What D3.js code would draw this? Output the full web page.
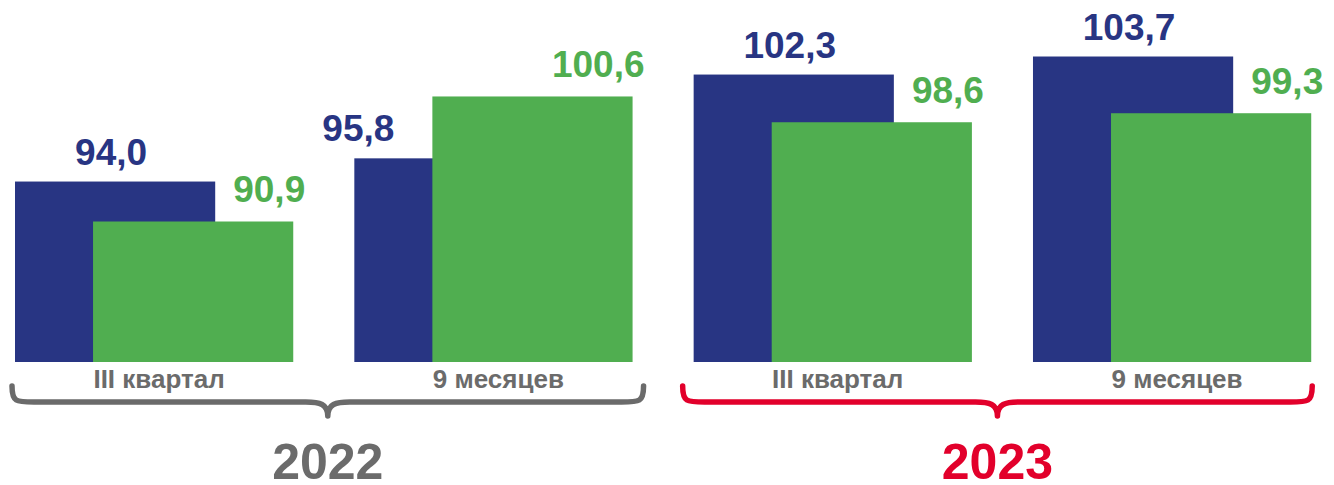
<!DOCTYPE html>
<html><head><meta charset="utf-8">
<script src="https://cdn.jsdelivr.net/npm/d3@7"></script>
<style>
html,body{margin:0;padding:0;background:#fff;}
svg{display:block;font-family:"Liberation Sans",Arial,sans-serif;font-weight:bold;}
</style></head>
<body>
<svg id="c" width="1334" height="485"></svg>
<script>
const years = ["2022", "2023"];
const periods = ["III квартал", "9 месяцев"];
const categories = ["2022|III квартал", "2022|9 месяцев", "2023|III квартал", "2023|9 месяцев"];
const blueValues = [94.0, 95.8, 102.3, 103.7];
const greenValues = [90.9, 100.6, 98.6, 99.3];
const yearColors = ["#6b6b6b", "#e2002b"];

const BLUE = "#283583", GREEN = "#50ae50", GRAY = "#6b6b6b";
const svg = d3.select("#c");
const fmt = v => d3.format(".1f")(v).replace(".", ",");

const x = d3.scaleBand().domain(categories).range([15, 1372.3]).paddingInner(0).paddingOuter(0);
const bw = x.bandwidth();
const barW = bw * 0.59, greenOff = bw * 0.23;
const y = d3.scaleLinear().domain([80, 104]).range([362, 362 - 24 * 12.89]);

const data = categories.map((c, i) => ({c, year: c.split("|")[0], period: c.split("|")[1], b: blueValues[i], g: greenValues[i]}));

// blue bars
svg.selectAll("rect.blue").data(data).join("rect").attr("class", "blue")
  .attr("x", d => x(d.c)).attr("width", barW)
  .attr("y", d => y(d.b)).attr("height", d => y(80) - y(d.b)).attr("fill", BLUE);
// green bars
svg.selectAll("rect.green").data(data).join("rect").attr("class", "green")
  .attr("x", d => x(d.c) + greenOff).attr("width", barW)
  .attr("y", d => y(d.g)).attr("height", d => y(80) - y(d.g)).attr("fill", GREEN);

// blue labels
svg.selectAll("text.bl").data(data).join("text").attr("class", "bl")
  .attr("x", d => d.g > d.b ? x(d.c) + greenOff - 38 : x(d.c) + barW / 2 - 4)
  .attr("text-anchor", d => d.g > d.b ? "end" : "middle")
  .attr("y", d => y(d.b) - 17)
  .attr("font-size", 37).attr("fill", BLUE).text(d => fmt(d.b));
// green labels
svg.selectAll("text.gl").data(data).join("text").attr("class", "gl")
  .attr("x", d => x(d.c) + greenOff + barW + 12)
  .attr("text-anchor", "end")
  .attr("y", d => y(d.g) - 19)
  .attr("font-size", 37).attr("fill", GREEN).text(d => fmt(d.g));

// category labels
svg.selectAll("text.cat").data(data).join("text").attr("class", "cat")
  .attr("x", d => x(d.c) + greenOff + 66).attr("text-anchor", "middle")
  .attr("y", 388).attr("font-size", 26).attr("fill", GRAY).text(d => d.period);

// braces and year labels
years.forEach((yr, i) => {
  const cats = data.filter(d => d.year === yr);
  const l = x(cats[0].c) - 3 - i * 8;
  const r = x(cats[cats.length - 1].c) + greenOff + barW + 11 - i * 10;
  const m = (l + r) / 2;
  const top = 386, h = 402, tip = 416;
  const p = d3.path();
  p.moveTo(l, top);
  p.bezierCurveTo(l, h, l + 4, h, l + 22, h);
  p.lineTo(m - 22, h);
  p.bezierCurveTo(m - 8, h, m, h + 2, m, tip);
  p.moveTo(m, tip);
  p.bezierCurveTo(m, h + 2, m + 8, h, m + 22, h);
  p.lineTo(r - 22, h);
  p.bezierCurveTo(r - 4, h, r, h, r, top);
  svg.append("path").attr("d", p.toString()).attr("fill", "none")
    .attr("stroke", yearColors[i]).attr("stroke-width", 5.5).attr("stroke-linecap", "round").attr("stroke-linejoin", "round");
  svg.append("text").attr("x", m).attr("y", 479).attr("text-anchor", "middle")
    .attr("font-size", 50).attr("fill", yearColors[i]).text(yr);
});
</script>
</body></html>
